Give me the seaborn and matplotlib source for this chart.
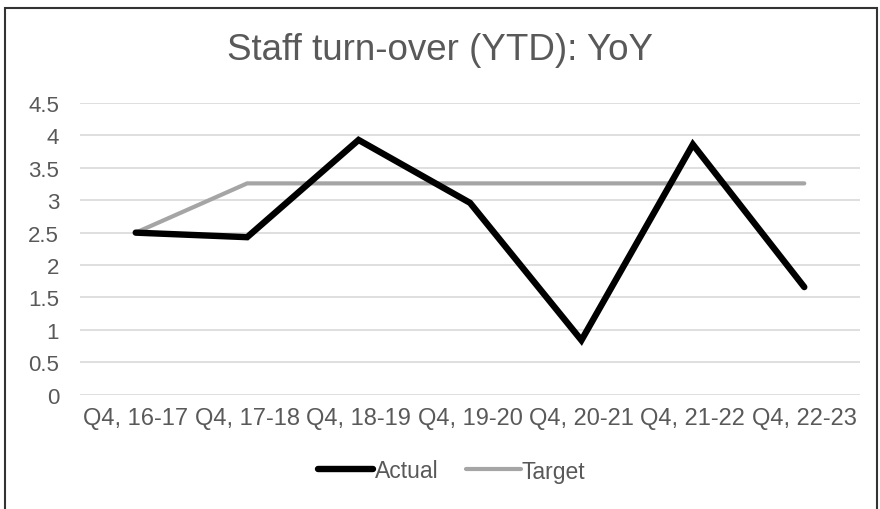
import numpy as np
import pandas as pd
import matplotlib
matplotlib.use("Agg")
import matplotlib.pyplot as plt
import seaborn as sns
from matplotlib.patches import Rectangle
from matplotlib.lines import Line2D

# data
quarters = ["Q4, 16-17", "Q4, 17-18", "Q4, 18-19", "Q4, 19-20",
            "Q4, 20-21", "Q4, 21-22", "Q4, 22-23"]
actual = [2.5, 2.43, 3.93, 2.96, 0.84, 3.86, 1.66]
target = [2.5, 3.26, 3.26, 3.26, 3.26, 3.26, 3.26]
y_ticks = [0, 0.5, 1, 1.5, 2, 2.5, 3, 3.5, 4, 4.5]
y_tick_labels = ["0", "0.5", "1", "1.5", "2", "2.5", "3", "3.5", "4", "4.5"]

df = pd.DataFrame({
    "quarter": quarters * 2,
    "x": list(range(len(quarters))) * 2,
    "value": actual + target,
    "series": ["Actual"] * len(actual) + ["Target"] * len(target),
})

sns.set_style("white")
plt.rcParams["font.family"] = ["Liberation Sans", "DejaVu Sans"]
grey_text = "#595959"

fig = plt.figure(figsize=(8.8, 5.1), dpi=100)
ax = fig.add_axes([80 / 880, 1 - 395.7 / 510, 780 / 880, (395.7 - 104) / 510])

sns.lineplot(data=df, x="x", y="value", hue="series", size="series",
             palette={"Actual": "#000000", "Target": "#A5A5A5"},
             sizes={"Actual": 4.6, "Target": 3.0},
             hue_order=["Target", "Actual"],
             ax=ax, legend=False, sort=False)
for ln in ax.get_lines():
    ln.set_solid_capstyle("round")
    ln.set_solid_joinstyle("miter")

ax.set_xlim(-0.5, len(quarters) - 0.5)
ax.set_ylim(0, 4.5)
ax.set_yticks(y_ticks)
ax.set_yticklabels(y_tick_labels)
ax.set_xticks(range(len(quarters)))
ax.set_xticklabels(quarters)
ax.tick_params(axis="both", length=0, colors=grey_text)
ax.tick_params(axis="x", labelsize=17, pad=9)
ax.tick_params(axis="y", labelsize=16, pad=15)
ax.set_xlabel("")
ax.set_ylabel("")
ax.yaxis.grid(True, color="#D9D9D9", linewidth=1.2)
ax.set_axisbelow(True)
for s in ax.spines.values():
    s.set_visible(False)

fig.suptitle("Staff turn-over (YTD): YoY", x=0.5, y=1 - 50 / 510, va="center",
             fontsize=26.5, color=grey_text)

# legend
handles = [Line2D([0], [0], color="#000000", lw=4.6, solid_capstyle="round"),
           Line2D([0], [0], color="#A5A5A5", lw=3.0, solid_capstyle="round")]
fig.legend(handles, ["Actual", "Target"], loc="center",
           bbox_to_anchor=(452 / 880, 1 - 472 / 510), ncol=2, frameon=False,
           fontsize=16.5, labelcolor=grey_text, handlelength=2.4,
           handletextpad=0.05, columnspacing=1.2)

# outer border
fig.patches.append(Rectangle((5 / 880, -0.02), 872 / 880, 1 - 9 / 510 + 0.02,
                             transform=fig.transFigure, fill=False,
                             edgecolor="#333333", linewidth=1.5))

fig.savefig("out.png", dpi=100)
